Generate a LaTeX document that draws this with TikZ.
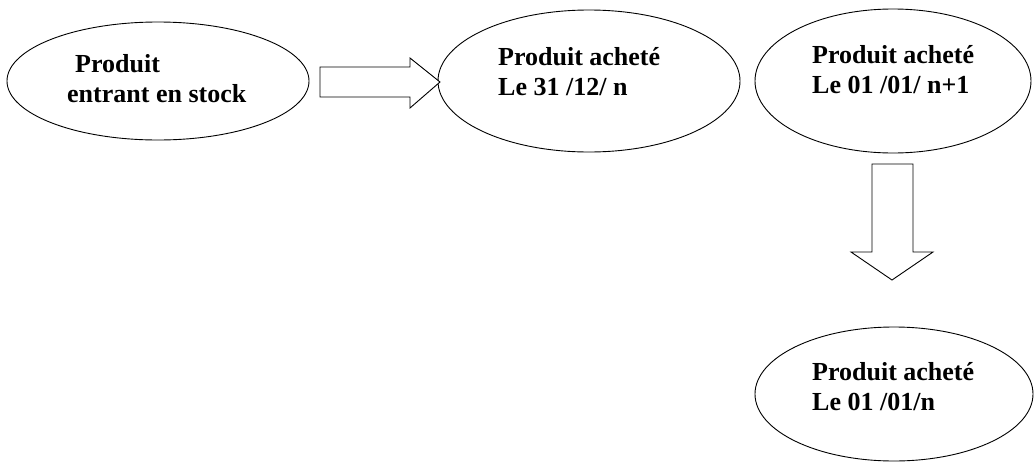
\documentclass[tikz,border=0pt]{standalone}
\usepackage{fontspec}
\setmainfont{Liberation Serif}
\begin{document}
\begin{tikzpicture}[x=1pt,y=-1pt,
  bubble/.style={draw=black, line width=0.9pt},
  label/.style={anchor=base west, inner sep=0pt, font=\bfseries\fontsize{26}{31}\selectfont},
  blockarrow/.style={draw=black, line width=0.9pt, fill=white, line join=miter}]
\useasboundingbox (0,0) rectangle (1034,461);

% the four stages
\draw[bubble] (158,81) ellipse [x radius=151, y radius=59];
\node[inner sep=0pt] (e1) at (158,81) {};
\draw[bubble] (589,81) ellipse [x radius=151, y radius=71];
\node[inner sep=0pt] (e2) at (589,81) {};
\draw[bubble] (893,81) ellipse [x radius=138, y radius=72];
\node[inner sep=0pt] (e3) at (893,81) {};
\draw[bubble] (894,394) ellipse [x radius=139, y radius=67];
\node[inner sep=0pt] (e4) at (894,394) {};

% texts
\node[label] (t1a) at (75,72) {Produit};
\node[label] (t1b) at (67,102) {entrant en stock};
\node[label] (t2a) at (498,65) {Produit acheté};
\node[label] (t2b) at (498,95) {Le 31 /12/ n};
\node[label] (t3a) at (812,63) {Produit acheté};
\node[label] (t3b) at (812,93) {Le 01 /01/ n+1};
\node[label] (t4a) at (812,380) {Produit acheté};
\node[label] (t4b) at (812,410) {Le 01 /01/n};

% right block arrow towards the second stage
\coordinate (a1tip) at (440,82);
\draw[blockarrow] (320,67) -- (410,67) -- (410,58) -- (a1tip) -- (410,108)
  -- (410,97) -- (320,97) -- cycle;

% downward block arrow
\coordinate (a2tip) at (892,280);
\draw[blockarrow] (872,164) -- (913,164) -- (913,252) -- (933,252) -- (a2tip)
  -- (851,252) -- (872,252) -- cycle;
\end{tikzpicture}
\end{document}
